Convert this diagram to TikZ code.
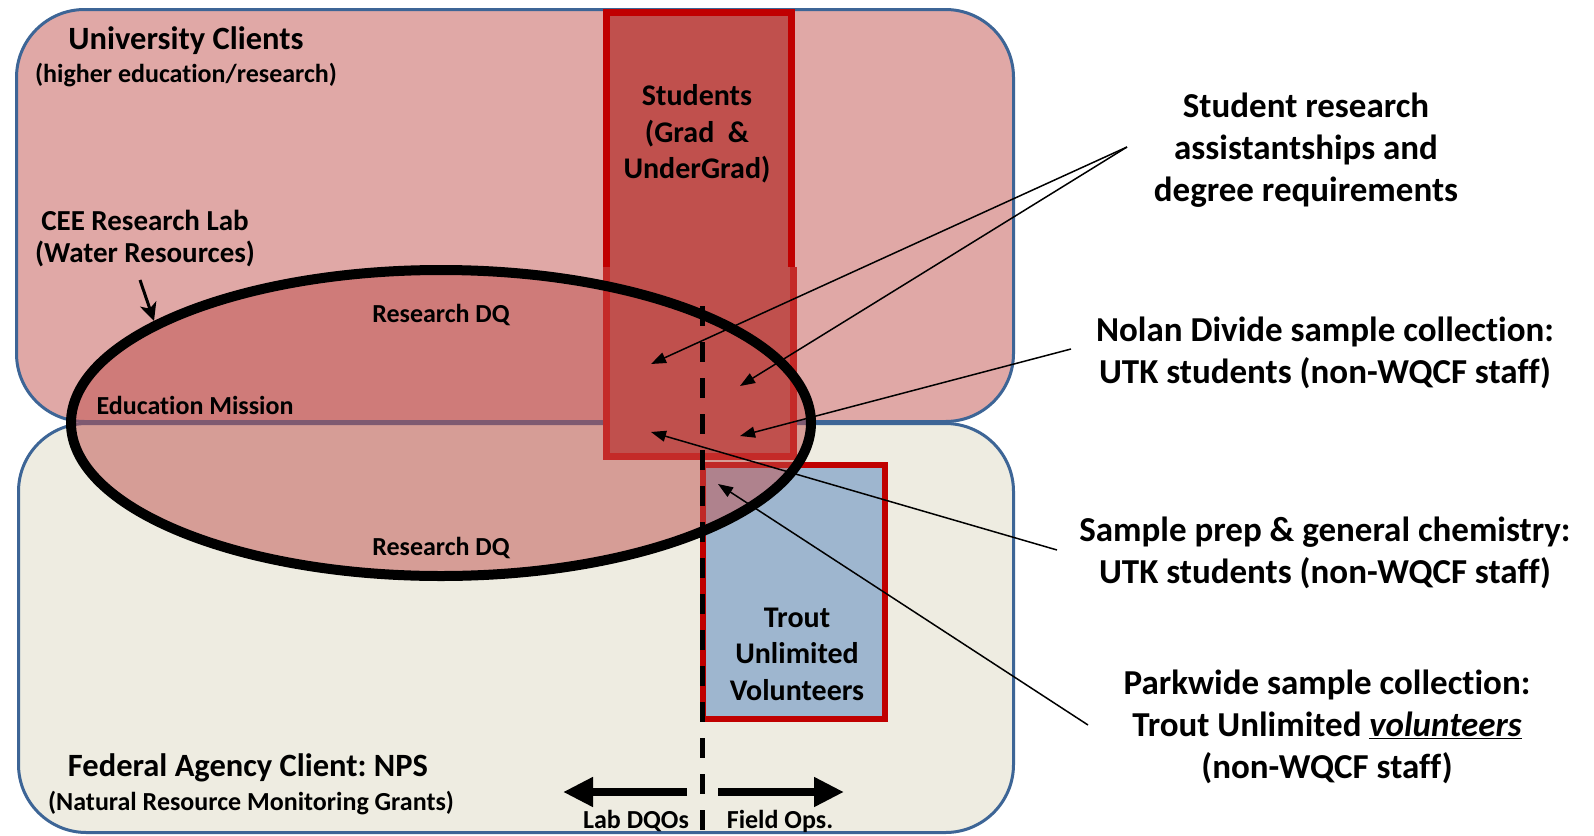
\documentclass[tikz,border=0pt]{standalone}
\usepackage{fontspec}
\setmainfont{Carlito}[Ligatures={NoCommon}]
\usetikzlibrary{arrows.meta}
\definecolor{univfill}{HTML}{E0A8A6}
\definecolor{fedfill}{HTML}{EEECE1}
\definecolor{boxline}{HTML}{3D6596}
\definecolor{stufill}{HTML}{C0504D}
\definecolor{stuline}{HTML}{C00000}
\definecolor{stulinetwo}{HTML}{C42A28}
\definecolor{troutfill}{HTML}{9EB6CF}
\begin{document}
\frenchspacing
\begin{tikzpicture}[x=1pt,y=-1pt,
  client/.style={draw=boxline, line width=3pt, rounded corners=68pt},
  lbl/.style={inner sep=0pt, align=center, text=black},
  title/.style={lbl, font=\fontsize{32.5}{39}\selectfont\bfseries},
  subtitle/.style={lbl, font=\fontsize{26}{31}\selectfont\bfseries},
  midlbl/.style={lbl, font=\fontsize{29}{35}\selectfont\bfseries},
  small/.style={lbl, font=\fontsize{26}{31}\selectfont\bfseries},
  boxtext/.style={lbl, font=\fontsize{30}{36.5}\selectfont\bfseries},
  note/.style={lbl, font=\fontsize{35}{42}\selectfont\bfseries},
  pointer/.style={line width=1.5pt, -{Triangle[length=15pt,width=11pt]}},
  bigarrow/.style={line width=8pt, -{Triangle[length=30pt,width=28pt]}},
  divider/.style={line width=5pt, dash pattern=on 20pt off 16pt}]
\useasboundingbox (0,0) rectangle (1594,835);
\fill[white] (0,0) rectangle (1594,835);

% client boxes
\draw[client, fill=univfill] (16.5,9.5) rectangle (1013.5,421.5);
\draw[client, fill=fedfill] (18.5,423.5) rectangle (1013.5,832.5);

% trout unlimited rectangle
\draw[draw=stuline, line width=6pt, fill=troutfill] (703,465) rectangle (885,719);

% ellipse fill (translucent)
\fill[stufill, fill opacity=0.5] (441,423) ellipse [x radius=370pt, y radius=153pt];

% students rectangle
\fill[stufill] (606,12) rectangle (792,456);
\draw[stuline, line width=7pt] (606,267) -- (606,12) -- (791,12) -- (791,267);
\draw[stulinetwo, line width=7pt] (606,267) -- (606,456) -- (793,456) -- (793,267);

% ellipse outline
\draw[black, line width=10pt] (441,423) ellipse [x radius=370pt, y radius=153pt];

% divider
\coordinate (dtop) at (702,306);
\coordinate (dbot) at (702,835);
\draw[divider] (dtop) -- (dbot);

% texts
\node[title] (uc) at (186,41) {University Clients};
\node[subtitle] (ucs) at (186,75) {(higher education/research)};
\node[midlbl] (cee) at (145,220) {CEE Research Lab};
\node[midlbl] (ceew) at (145,254) {(Water Resources)};
\node[small] (rdq1) at (441,315) {Research DQ};
\node[small] (edu) at (195,405) {Education Mission};
\node[small] (rdq2) at (441,548) {Research DQ};
\node[boxtext] (stu) at (697,134) {Students\\(Grad\ \ \&\\UnderGrad)};
\node[boxtext] (tu) at (797,654) {Trout\\Unlimited\\Volunteers};
\node[title] (fed) at (248,768) {Federal Agency Client: NPS};
\node[subtitle] (feds) at (251,803) {(Natural Resource Monitoring Grants)};
\node[small] (lab) at (636,821) {Lab DQOs};
\node[small] (field) at (780,821) {Field Ops.};

\node[note] (n1) at (1306,150) {Student research\\assistantships and\\degree requirements};
\node[note] (n2) at (1325,353) {Nolan Divide sample collection:\\UTK students (non-WQCF staff)};
\node[note] (n3) at (1325,553) {Sample prep \& general chemistry:\\UTK students (non-WQCF staff)};
\node[note] (n4) at (1327,727) {Parkwide sample collection:\\Trout Unlimited \underline{\textit{volunteers}}\\(non-WQCF staff)};

% CEE arrow
\coordinate (ceeA) at (140,280);
\coordinate (ceeB) at (154,321);
\draw[line width=3pt, -{Stealth[length=18pt,width=17pt,inset=5pt]}] (ceeA) -- (ceeB);

% big arrows
\coordinate (labA) at (687,792);
\coordinate (labB) at (563,792);
\coordinate (fieldA) at (718,792);
\coordinate (fieldB) at (844,792);
\draw[bigarrow] (labA) -- (labB);
\draw[bigarrow] (fieldA) -- (fieldB);

% pointers
\coordinate (s1) at (1127,147);
\coordinate (s2) at (1071,349);
\coordinate (s3) at (1057,550);
\coordinate (s4) at (1088,725);
\coordinate (t1) at (651,364);
\coordinate (t2) at (740,386);
\coordinate (t3) at (740,436);
\coordinate (t4) at (651,432);
\coordinate (t5) at (718,484);
\draw[pointer] (s1) -- (t1);
\draw[pointer] (s1) -- (t2);
\draw[pointer] (s2) -- (t3);
\draw[pointer] (s3) -- (t4);
\draw[pointer] (s4) -- (t5);
\end{tikzpicture}
\end{document}
